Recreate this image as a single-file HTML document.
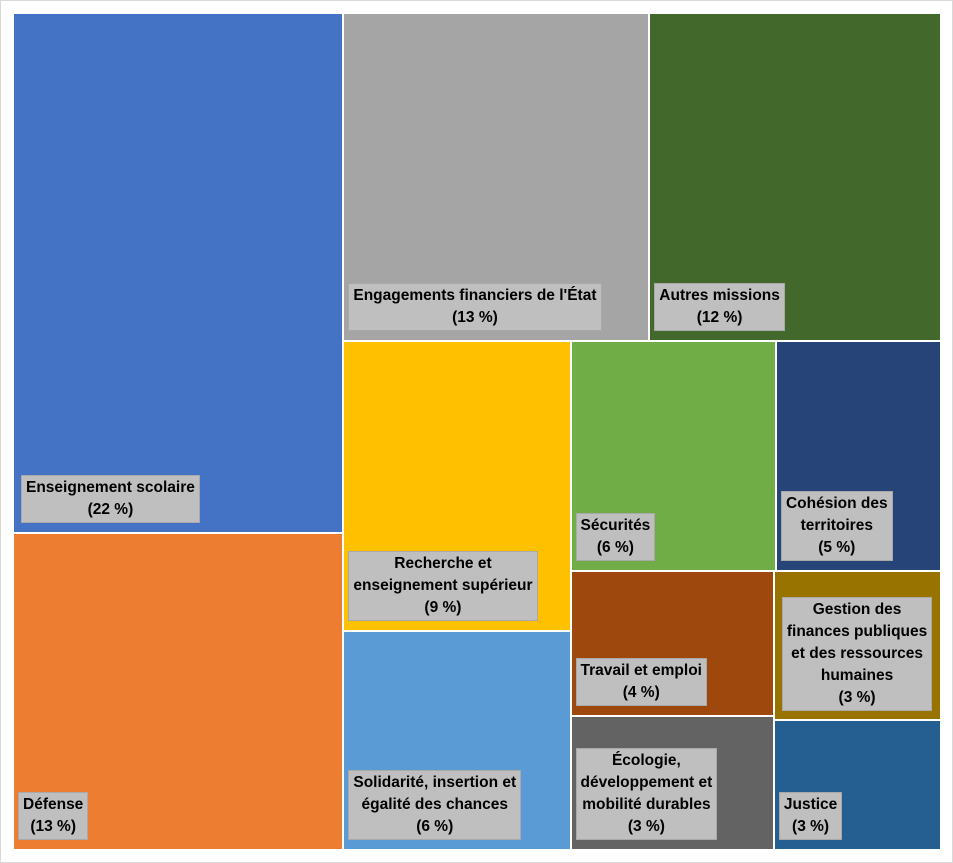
<!DOCTYPE html>
<html><head><meta charset="utf-8">
<style>
body{margin:0;background:#fff;}
#wrap{position:relative;width:953px;height:863px;overflow:hidden;background:#fff;box-sizing:border-box;border:1px solid #d9d9d9;}
.cell{position:absolute;box-sizing:border-box;border:1px solid #fff;}
.lbl{position:absolute;background:#bfbfbf;border:1px solid #a9a9a9;color:#000;font:bold 15.5px/22px "Liberation Sans",sans-serif;text-align:center;padding:1px 4px;white-space:nowrap;box-sizing:border-box;}
</style></head><body>
<div id="wrap"></div>
<script>
const categories=["Enseignement scolaire","Défense","Engagements financiers de l'État","Autres missions","Recherche et<br>enseignement supérieur","Solidarité, insertion et<br>égalité des chances","Sécurités","Cohésion des<br>territoires","Travail et emploi","Écologie,<br>développement et<br>mobilité durables","Gestion des<br>finances publiques<br>et des ressources<br>humaines","Justice"];
const values=[22.1,13.5,12.9,12.3,8.5,6.4,6.1,4.9,3.8,3.5,3.2,2.8];
const percentLabels=["22 %","13 %","13 %","12 %","9 %","6 %","6 %","5 %","4 %","3 %","3 %","3 %"];
const colors=["#4472C4","#ED7D31","#A5A5A5","#43682B","#FFC000","#5B9BD5","#70AD47","#264478","#9E480E","#636363","#997300","#255E91"];
const slugs=["enseignement-scolaire","defense","engagements-financiers","autres-missions","recherche","solidarite","securites","cohesion-territoires","travail-emploi","ecologie","gestion-finances","justice"];
const tree={d:'h',c:[{d:'v',c:[0,1]},{d:'v',c:[{d:'h',c:[2,3]},{d:'h',c:[{d:'v',c:[4,5]},{d:'v',c:[{d:'h',c:[6,7]},{d:'h',c:[{d:'v',c:[8,9]},{d:'v',c:[10,11]}]}]}]}]}]};
function sum(n){return typeof n==='number'?values[n]:n.c.reduce((a,b)=>a+sum(b),0);}
const rects=[];
function lay(n,x,y,w,h){
  if(typeof n==='number'){rects[n]=[x,y,w,h];return;}
  const t=sum(n);let off=0;
  n.c.forEach(ch=>{const f=sum(ch)/t;
    if(n.d==='h'){lay(ch,x+off,y,w*f,h);off+=w*f;}else{lay(ch,x,y+off,w,h*f);off+=h*f;}});
}
lay(tree,12,12,928,837);
const wrap=document.getElementById('wrap');
rects.forEach((r,i)=>{
  const d=document.createElement('div');
  d.className='cell';
  
  
  d.style.left=r[0]+'px';d.style.top=r[1]+'px';d.style.width=r[2]+'px';d.style.height=r[3]+'px';
  d.style.background=colors[i];
  wrap.appendChild(d);
  const l=document.createElement('div');
  l.className='lbl';
  
  
  l.innerHTML=categories[i]+'<br>('+percentLabels[i]+')';
  l.style.left=(r[0]+(i===10?8:(i===0?8:5)))+'px';
  l.style.bottom=(863-(r[1]+r[3])+(i===10?7:8))+'px';
  wrap.appendChild(l);
});
</script>
</body></html>
